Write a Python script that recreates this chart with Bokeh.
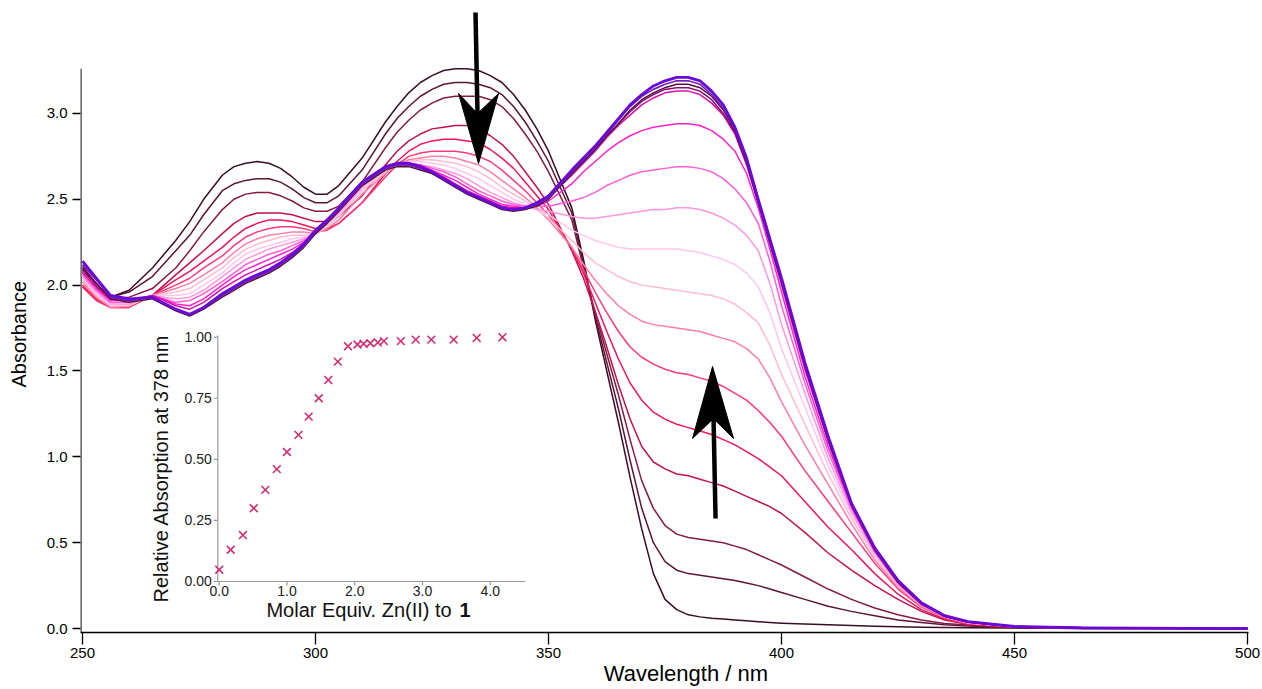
import math
from bokeh.plotting import figure
from bokeh.models import Range1d, FixedTicker, PrintfTickFormatter, Label
from bokeh.embed import file_html
from bokeh.resources import INLINE
from bokeh.core.properties import value

FONT = "Liberation Sans"
NBSP = "\u00a0"

# ---------------- data ----------------
wavelength_nm = [250, 253, 256, 260, 265, 270, 273, 276,
                 280, 282.5, 285, 287.5, 290, 292.5, 295, 297.5, 300, 302.5, 305,
                 310, 315, 317.5, 320, 322.5, 325, 327.5, 330, 332.5, 335, 337.5, 340,
                 342.5, 345, 347.5, 350,
                 355, 357.5, 360, 362.5, 365, 367.5, 370, 372.5, 375, 377.5, 380,
                 382.5, 385, 387.5, 390, 392.5, 395, 397.5, 400,
                 405, 410, 415, 420, 425, 430, 435, 440, 450, 465, 500]

spectrum_00 = [2.09, 2.00, 1.93, 1.97, 2.10, 2.26, 2.37, 2.50,
               2.64, 2.69, 2.71, 2.72, 2.71, 2.68, 2.63, 2.57, 2.53, 2.53, 2.58,
               2.74, 2.95, 3.04, 3.12, 3.18, 3.22, 3.25, 3.26, 3.26, 3.25, 3.22, 3.18, 3.11, 3.02, 2.91, 2.78,
               2.45, 2.15, 1.80, 1.50, 1.20, 0.88, 0.58, 0.32, 0.17, 0.11, 0.08, 0.068, 0.06, 0.055, 0.05, 0.045, 0.04, 0.035, 0.031,
               0.026, 0.022, 0.018, 0.014, 0.011, 0.008, 0.006, 0.005, 0.003, 0.001, 0.0]
spectrum_01 = [2.08, 1.99, 1.93, 1.96, 2.05, 2.20, 2.29, 2.41,
               2.55, 2.59, 2.61, 2.62, 2.62, 2.60, 2.56, 2.51, 2.48, 2.48, 2.52,
               2.67, 2.88, 2.97, 3.04, 3.10, 3.14, 3.17, 3.18, 3.18, 3.17, 3.15, 3.11, 3.04, 2.95, 2.84, 2.72,
               2.42, 2.12, 1.82, 1.55, 1.28, 0.98, 0.70, 0.50, 0.39, 0.34, 0.32, 0.31, 0.30, 0.29, 0.28, 0.265, 0.25, 0.23, 0.21,
               0.17, 0.13, 0.10, 0.075, 0.05, 0.035, 0.022, 0.015, 0.005, 0.001, 0.0]
spectrum_02 = [2.07, 1.98, 1.92, 1.93, 1.98, 2.10, 2.20, 2.31,
               2.44, 2.50, 2.53, 2.54, 2.54, 2.52, 2.49, 2.45, 2.43, 2.43, 2.46,
               2.60, 2.80, 2.89, 2.96, 3.02, 3.06, 3.09, 3.10, 3.10, 3.10, 3.08, 3.04, 2.97, 2.88, 2.78, 2.66,
               2.38, 2.10, 1.84, 1.60, 1.36, 1.10, 0.86, 0.70, 0.60, 0.55, 0.53, 0.52, 0.51, 0.50, 0.48, 0.46, 0.43, 0.40, 0.37,
               0.30, 0.23, 0.17, 0.12, 0.08, 0.05, 0.03, 0.02, 0.007, 0.002, 0.0]
spectrum_03 = [2.00, 1.92, 1.88, 1.88, 1.94, 2.06, 2.13, 2.20,
               2.30, 2.36, 2.40, 2.42, 2.42, 2.42, 2.41, 2.39, 2.37, 2.37, 2.40,
               2.52, 2.70, 2.78, 2.84, 2.88, 2.91, 2.92, 2.93, 2.93, 2.91, 2.87, 2.82, 2.75, 2.66, 2.57, 2.47,
               2.20, 2.04, 1.85, 1.64, 1.42, 1.22, 1.06, 0.97, 0.93, 0.90, 0.89, 0.87, 0.85, 0.83, 0.80, 0.77, 0.74, 0.71, 0.67,
               0.56, 0.44, 0.34, 0.25, 0.17, 0.10, 0.05, 0.025, 0.008, 0.002, 0.0]
spectrum_04 = [1.99, 1.91, 1.87, 1.87, 1.94, 2.03, 2.08, 2.14,
               2.22, 2.28, 2.33, 2.36, 2.38, 2.38, 2.37, 2.35, 2.33, 2.33, 2.36,
               2.48, 2.65, 2.72, 2.78, 2.82, 2.84, 2.85, 2.85, 2.84, 2.83, 2.79, 2.74, 2.68, 2.60, 2.52, 2.44,
               2.21, 2.07, 1.90, 1.73, 1.57, 1.43, 1.33, 1.26, 1.22, 1.19, 1.17, 1.15, 1.13, 1.10, 1.07, 1.03, 0.99, 0.94, 0.89,
               0.74, 0.59, 0.46, 0.32, 0.20, 0.11, 0.055, 0.027, 0.008, 0.003, 0.0]
spectrum_05 = [2.00, 1.92, 1.87, 1.87, 1.94, 2.00, 2.04, 2.10,
               2.17, 2.23, 2.28, 2.31, 2.33, 2.34, 2.34, 2.33, 2.31, 2.32, 2.36,
               2.48, 2.63, 2.70, 2.75, 2.77, 2.78, 2.78, 2.78, 2.77, 2.75, 2.72, 2.67, 2.61, 2.55, 2.48, 2.41,
               2.22, 2.09, 1.96, 1.84, 1.73, 1.64, 1.58, 1.54, 1.51, 1.49, 1.48, 1.46, 1.44, 1.41, 1.37, 1.33, 1.27, 1.20, 1.12,
               0.92, 0.74, 0.56, 0.38, 0.23, 0.125, 0.062, 0.030, 0.009, 0.003, 0.0]
spectrum_06 = [2.02, 1.93, 1.87, 1.88, 1.94, 1.98, 2.01, 2.06,
               2.13, 2.19, 2.24, 2.27, 2.29, 2.30, 2.31, 2.31, 2.30, 2.33, 2.38,
               2.53, 2.65, 2.70, 2.73, 2.74, 2.75, 2.75, 2.74, 2.72, 2.70, 2.66, 2.61, 2.56, 2.51, 2.45, 2.38,
               2.22, 2.12, 2.03, 1.95, 1.88, 1.83, 1.79, 1.77, 1.76, 1.75, 1.74, 1.73, 1.71, 1.69, 1.67, 1.63, 1.57, 1.46, 1.32,
               1.07, 0.84, 0.61, 0.40, 0.24, 0.13, 0.065, 0.032, 0.010, 0.003, 0.0]
spectrum_07 = [2.03, 1.94, 1.88, 1.88, 1.94, 1.96, 1.98, 2.03,
               2.10, 2.16, 2.21, 2.24, 2.26, 2.28, 2.29, 2.29, 2.30, 2.34, 2.40,
               2.55, 2.66, 2.70, 2.72, 2.73, 2.73, 2.72, 2.71, 2.69, 2.66, 2.62, 2.57, 2.53, 2.49, 2.44, 2.39,
               2.26, 2.19, 2.13, 2.09, 2.05, 2.02, 2.00, 1.99, 1.98, 1.97, 1.96, 1.95, 1.94, 1.92, 1.89, 1.84, 1.78, 1.65, 1.48,
               1.19, 0.90, 0.64, 0.42, 0.25, 0.135, 0.068, 0.033, 0.010, 0.004, 0.0]
spectrum_08 = [2.04, 1.95, 1.88, 1.89, 1.94, 1.94, 1.95, 2.00,
               2.07, 2.13, 2.18, 2.21, 2.23, 2.25, 2.27, 2.28, 2.30, 2.35, 2.41,
               2.56, 2.67, 2.70, 2.72, 2.72, 2.71, 2.70, 2.68, 2.65, 2.62, 2.58, 2.54, 2.50, 2.47, 2.44, 2.41,
               2.32, 2.29, 2.26, 2.24, 2.22, 2.21, 2.21, 2.21, 2.21, 2.21, 2.20, 2.19, 2.17, 2.15, 2.12, 2.07, 1.99, 1.84, 1.63,
               1.29, 0.95, 0.66, 0.43, 0.26, 0.14, 0.07, 0.034, 0.011, 0.004, 0.0]
spectrum_09 = [2.05, 1.96, 1.89, 1.89, 1.94, 1.92, 1.93, 1.97,
               2.05, 2.10, 2.15, 2.18, 2.21, 2.23, 2.25, 2.27, 2.30, 2.36, 2.42,
               2.57, 2.68, 2.70, 2.71, 2.70, 2.69, 2.67, 2.65, 2.62, 2.58, 2.54, 2.51, 2.48, 2.46, 2.44, 2.43,
               2.40, 2.39, 2.39, 2.40, 2.41, 2.42, 2.43, 2.44, 2.44, 2.45, 2.45, 2.44, 2.42, 2.39, 2.35, 2.29, 2.20, 2.01, 1.77,
               1.37, 0.99, 0.68, 0.44, 0.26, 0.14, 0.07, 0.035, 0.011, 0.004, 0.0]
spectrum_10 = [2.06, 1.97, 1.90, 1.90, 1.94, 1.90, 1.91, 1.95,
               2.02, 2.07, 2.12, 2.15, 2.18, 2.20, 2.23, 2.26, 2.30, 2.37, 2.43,
               2.58, 2.68, 2.70, 2.71, 2.70, 2.68, 2.66, 2.63, 2.59, 2.55, 2.52, 2.49, 2.47, 2.46, 2.46, 2.46,
               2.49, 2.51, 2.54, 2.58, 2.61, 2.64, 2.66, 2.67, 2.68, 2.69, 2.69, 2.68, 2.66, 2.62, 2.56, 2.48, 2.36, 2.14, 1.88,
               1.43, 1.03, 0.70, 0.45, 0.26, 0.14, 0.07, 0.036, 0.011, 0.004, 0.0]
spectrum_11 = [2.08, 1.98, 1.91, 1.91, 1.94, 1.89, 1.88, 1.92,
               2.00, 2.05, 2.09, 2.12, 2.15, 2.18, 2.21, 2.25, 2.31, 2.38, 2.44,
               2.59, 2.69, 2.71, 2.71, 2.70, 2.67, 2.64, 2.61, 2.57, 2.53, 2.50, 2.47, 2.46, 2.45, 2.46, 2.49,
               2.59, 2.66, 2.72, 2.78, 2.83, 2.87, 2.90, 2.92, 2.93, 2.94, 2.94, 2.93, 2.90, 2.85, 2.78, 2.65, 2.45, 2.21, 1.96,
               1.47, 1.06, 0.71, 0.45, 0.27, 0.14, 0.07, 0.037, 0.011, 0.004, 0.0]
spectrum_12 = [2.10, 2.00, 1.92, 1.91, 1.94, 1.88, 1.86, 1.90,
               1.98, 2.02, 2.06, 2.09, 2.12, 2.15, 2.19, 2.24, 2.31, 2.38, 2.45,
               2.60, 2.69, 2.71, 2.71, 2.69, 2.66, 2.63, 2.59, 2.55, 2.52, 2.49, 2.46, 2.45, 2.45, 2.47, 2.51,
               2.64, 2.71, 2.78, 2.86, 2.93, 2.99, 3.05, 3.09, 3.12, 3.13, 3.13, 3.11, 3.06, 2.99, 2.88, 2.70, 2.48, 2.24, 2.00,
               1.51, 1.09, 0.72, 0.46, 0.27, 0.145, 0.072, 0.038, 0.011, 0.004, 0.0]
spectrum_13 = [2.11, 2.01, 1.92, 1.91, 1.93, 1.86, 1.83, 1.87,
               1.94, 1.98, 2.02, 2.05, 2.08, 2.12, 2.17, 2.23, 2.30, 2.37, 2.44,
               2.59, 2.68, 2.70, 2.70, 2.68, 2.65, 2.62, 2.58, 2.54, 2.51, 2.48, 2.45, 2.44, 2.45, 2.47, 2.51,
               2.65, 2.72, 2.79, 2.87, 2.94, 3.01, 3.07, 3.11, 3.14, 3.15, 3.15, 3.13, 3.08, 3.00, 2.89, 2.71, 2.48, 2.25, 2.02,
               1.53, 1.10, 0.72, 0.46, 0.27, 0.145, 0.072, 0.038, 0.011, 0.004, 0.0]
spectrum_14 = [2.10, 2.01, 1.92, 1.90, 1.92, 1.85, 1.82, 1.86,
               1.93, 1.97, 2.01, 2.04, 2.07, 2.11, 2.16, 2.22, 2.30, 2.36, 2.43,
               2.58, 2.67, 2.69, 2.69, 2.67, 2.65, 2.61, 2.57, 2.53, 2.50, 2.47, 2.44, 2.43, 2.44, 2.46, 2.50,
               2.65, 2.72, 2.79, 2.87, 2.94, 3.02, 3.08, 3.12, 3.15, 3.17, 3.17, 3.15, 3.10, 3.02, 2.90, 2.72, 2.48, 2.25, 2.02,
               1.53, 1.10, 0.72, 0.46, 0.27, 0.145, 0.072, 0.038, 0.011, 0.004, 0.0]
spectrum_15 = [2.12, 2.03, 1.93, 1.91, 1.93, 1.86, 1.83, 1.87,
               1.94, 1.98, 2.02, 2.05, 2.08, 2.12, 2.17, 2.23, 2.31, 2.37, 2.44,
               2.59, 2.68, 2.70, 2.70, 2.68, 2.66, 2.62, 2.58, 2.54, 2.51, 2.48, 2.45, 2.44, 2.45, 2.47, 2.51,
               2.66, 2.73, 2.80, 2.88, 2.96, 3.04, 3.10, 3.14, 3.17, 3.19, 3.19, 3.17, 3.11, 3.03, 2.91, 2.73, 2.49, 2.26, 2.03,
               1.54, 1.11, 0.73, 0.47, 0.28, 0.15, 0.075, 0.04, 0.012, 0.004, 0.0]
spectrum_16 = [2.14, 2.04, 1.94, 1.92, 1.93, 1.86, 1.83, 1.87,
               1.95, 1.99, 2.03, 2.06, 2.09, 2.13, 2.18, 2.24, 2.32, 2.38, 2.45,
               2.60, 2.69, 2.71, 2.71, 2.69, 2.66, 2.62, 2.58, 2.54, 2.51, 2.48, 2.45, 2.44, 2.45, 2.48, 2.52,
               2.67, 2.74, 2.81, 2.89, 2.97, 3.05, 3.11, 3.16, 3.19, 3.21, 3.21, 3.19, 3.13, 3.05, 2.92, 2.74, 2.50, 2.27, 2.04,
               1.55, 1.12, 0.73, 0.47, 0.28, 0.15, 0.075, 0.04, 0.012, 0.004, 0.0]

spectra = [spectrum_00, spectrum_01, spectrum_02, spectrum_03, spectrum_04, spectrum_05,
           spectrum_06, spectrum_07, spectrum_08, spectrum_09, spectrum_10, spectrum_11,
           spectrum_12, spectrum_13, spectrum_14, spectrum_15, spectrum_16]
for s in spectra:
    assert len(s) == len(wavelength_nm), (len(s), len(wavelength_nm))

# inset titration data
molar_equiv_zn = [0.0, 0.17, 0.35, 0.51, 0.68, 0.85, 1.00, 1.17, 1.32, 1.47, 1.61, 1.75,
                  1.90, 2.04, 2.13, 2.23, 2.34, 2.43, 2.68, 2.90, 3.13, 3.46, 3.80, 4.18]
relative_abs_378 = [0.048, 0.13, 0.19, 0.30, 0.375, 0.46, 0.53, 0.60, 0.675, 0.75, 0.825, 0.90,
                    0.963, 0.970, 0.973, 0.975, 0.978, 0.984, 0.984, 0.99, 0.99, 0.99, 0.997, 1.0]

x_ticks = [250, 300, 350, 400, 450, 500]
y_ticks = [0.0, 0.5, 1.0, 1.5, 2.0, 2.5, 3.0]
inset_x_ticks = [0.0, 1.0, 2.0, 3.0, 4.0]
inset_x_tick_labels = ["0.0", "1.0", "2.0", "3.0", "4.0"]
inset_y_ticks = [0.0, 0.25, 0.5, 0.75, 1.0]
inset_y_tick_labels = ["0.00", "0.25", "0.50", "0.75", "1.00"]

# ---------------- styles ----------------
spectrum_colors = ["#3b0d26", "#5e1434", "#851a45", "#c0124e", "#f01458", "#ff3a76",
                   "#ff7ea6", "#ffbccd", "#ffc6ee", "#ff96e0", "#ff5ed4", "#ff22cc",
                   "#d410ac", "#8c0c72", "#561040", "#7424b4", "#6a08d8"]
spectrum_widths = [1.5] * 13 + [1.5, 1.5, 1.7, 2.8]

X_START, X_END = 249.57, 500.2
Y_START, Y_END = -0.023, 3.646

p = figure(width=1262, height=689, output_backend="svg", toolbar_location=None,
           x_range=Range1d(X_START, X_END), y_range=Range1d(Y_START, Y_END),
           min_border_left=80, min_border_right=14, min_border_top=2, min_border_bottom=57)
p.outline_line_color = None
p.xgrid.visible = False
p.ygrid.visible = False
p.background_fill_color = "white"
p.border_fill_color = "white"

p.extra_x_ranges = {"ix": Range1d(-2.047, 15.19)}
p.extra_y_ranges = {"iy": Range1d(-0.2088, 2.370)}

xa = p.xaxis[0]
xa.ticker = FixedTicker(ticks=x_ticks)
xa.formatter = PrintfTickFormatter(format="%d")
xa.major_tick_out = 12
xa.major_tick_in = 0
xa.minor_tick_out = 0
xa.minor_tick_in = 0
xa.axis_line_width = 1.3
xa.major_tick_line_width = 1.3
xa.major_label_text_font = FONT
xa.major_label_text_font_size = "15px"
xa.major_label_text_color = "black"
xa.major_label_standoff = 3
xa.axis_label = NBSP * 7 + "Wavelength / nm"
xa.axis_label_text_font = FONT
xa.axis_label_text_font_size = "22px"
xa.axis_label_text_font_style = "normal"
xa.axis_label_text_color = "black"
xa.axis_label_standoff = 0

ya = p.yaxis[0]
ya.ticker = FixedTicker(ticks=y_ticks)
ya.formatter = PrintfTickFormatter(format="%.1f")
ya.axis_line_color = None
ya.major_tick_out = 8
ya.major_tick_in = 0
ya.minor_tick_out = 0
ya.minor_tick_in = 0
ya.major_tick_line_width = 1.3
ya.major_label_text_font = FONT
ya.major_label_text_font_size = "15px"
ya.major_label_text_color = "black"
ya.major_label_standoff = 5
ya.axis_label = "Absorbance" + NBSP * 6
ya.axis_label_text_font = FONT
ya.axis_label_text_font_size = "20px"
ya.axis_label_text_font_style = "normal"
ya.axis_label_text_color = "black"
ya.axis_label_standoff = 14

# y axis line (shorter than the frame, as in the original)
p.segment(x0=[249.66], y0=[Y_START], x1=[249.66], y1=[3.26], line_color="black", line_width=1.3)

# spectra
for spec, col, lw in zip(spectra, spectrum_colors, spectrum_widths):
    p.line(wavelength_nm, spec, line_color=col, line_width=lw, line_join="round")

# arrows (annotation geometry)
ARROW_DOWN_TAIL = (334.33, 3.588)
ARROW_DOWN_NOTCH = (334.76, 2.999)
ARROW_DOWN_HEAD_X = [330.69, 334.98, 339.27, 334.76]
ARROW_DOWN_HEAD_Y = [3.116, 2.708, 3.116, 2.999]
ARROW_UP_TAIL = (385.84, 0.641)
ARROW_UP_NOTCH = (385.41, 1.223)
ARROW_UP_HEAD_X = [380.90, 385.19, 389.70, 385.41]
ARROW_UP_HEAD_Y = [1.107, 1.526, 1.107, 1.223]

for tail, notch, hx, hy in [(ARROW_DOWN_TAIL, ARROW_DOWN_NOTCH, ARROW_DOWN_HEAD_X, ARROW_DOWN_HEAD_Y),
                            (ARROW_UP_TAIL, ARROW_UP_NOTCH, ARROW_UP_HEAD_X, ARROW_UP_HEAD_Y)]:
    p.segment(x0=[tail[0]], y0=[tail[1]], x1=[notch[0]], y1=[notch[1]],
              line_color="black", line_width=4.5)
    p.patch(hx, hy, fill_color="black", line_color="black", line_width=1)

# ---------------- inset (drawn on extra ranges) ----------------
INSET_AXIS_X = -0.021
INSET_AXIS_COLOR = "#9a9a9a"
p.segment(x0=[INSET_AXIS_X, INSET_AXIS_X], y0=[0.0, 0.0], x1=[4.52, INSET_AXIS_X], y1=[0.0, 1.007],
          x_range_name="ix", y_range_name="iy", line_color=INSET_AXIS_COLOR, line_width=1.2)
p.segment(x0=[INSET_AXIS_X] * len(inset_y_ticks), y0=inset_y_ticks,
          x1=[INSET_AXIS_X - 0.06] * len(inset_y_ticks), y1=inset_y_ticks,
          x_range_name="ix", y_range_name="iy", line_color=INSET_AXIS_COLOR, line_width=1.2)
p.segment(x0=inset_x_ticks, y0=[0.0] * len(inset_x_ticks),
          x1=inset_x_ticks, y1=[-0.016] * len(inset_x_ticks),
          x_range_name="ix", y_range_name="iy", line_color=INSET_AXIS_COLOR, line_width=1.2)
p.text(x=[INSET_AXIS_X] * len(inset_y_ticks), y=inset_y_ticks, text=inset_y_tick_labels,
       x_offset=-6, text_align="right", text_baseline="middle",
       text_font=value(FONT), text_font_size=value("14px"), text_color="#222222",
       x_range_name="ix", y_range_name="iy")
p.text(x=inset_x_ticks, y=[0.0] * len(inset_x_ticks), text=inset_x_tick_labels,
       y_offset=5, text_align="center", text_baseline="top",
       text_font=value(FONT), text_font_size=value("14px"), text_color="#222222",
       x_range_name="ix", y_range_name="iy")
p.scatter(molar_equiv_zn, relative_abs_378, marker="x", size=11, line_color="#d02f72",
          line_width=1.6, x_range_name="ix", y_range_name="iy")

p.add_layout(Label(x=-0.866, y=0.4625, x_range_name="ix", y_range_name="iy",
                   text="Relative Absorption at 378 nm", angle=math.pi / 2,
                   text_align="center", text_baseline="middle",
                   text_font=FONT, text_font_size="20px", text_color="#111111"))
p.add_layout(Label(x=0.697, y=-0.1187, x_range_name="ix", y_range_name="iy",
                   text="Molar Equiv. Zn(II) to", text_align="left", text_baseline="middle",
                   text_font=FONT, text_font_size="20px", text_color="#111111"))
p.add_layout(Label(x=3.547, y=-0.1187, x_range_name="ix", y_range_name="iy",
                   text="1", text_align="left", text_baseline="middle", text_font_style="bold",
                   text_font=FONT, text_font_size="20px", text_color="#111111"))

open("out.html", "w").write(file_html(p, INLINE))
